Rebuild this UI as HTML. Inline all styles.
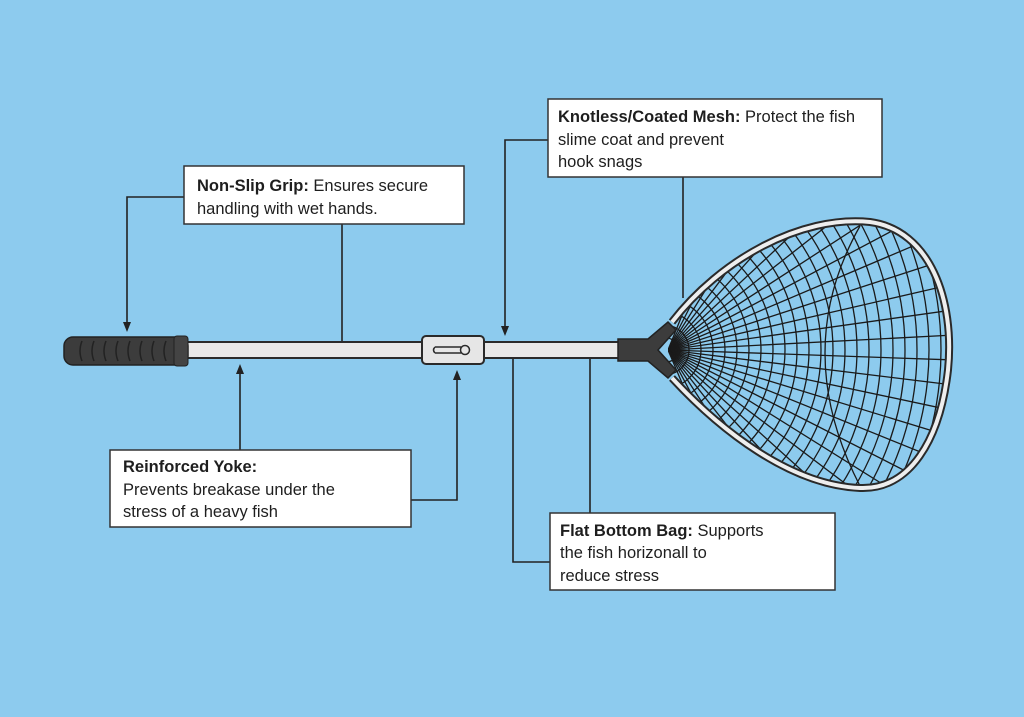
<!DOCTYPE html>
<html><head><meta charset="utf-8"><style>
html,body{margin:0;padding:0;background:#8dcbee;}
svg{display:block}
text{font-family:"Liberation Sans",sans-serif;font-size:16.5px;fill:#1e1e1e}
.b{font-weight:bold}
</style></head><body>
<svg width="1024" height="717" viewBox="0 0 1024 717" xmlns="http://www.w3.org/2000/svg">
<defs>
<clipPath id="hc"><path d="M668,322 C720,260 800,215 870,222 C930,230 955,300 948,370 C940,440 910,490 860,488 C790,485 720,430 668,378 Z"/></clipPath>
</defs>
<rect width="1024" height="717" fill="#8dcbee"/>

<!-- connectors -->
<g stroke="#222" stroke-width="1.6" fill="none">
<polyline points="184,197 127,197 127,324"/>
<line x1="342" y1="224" x2="342" y2="352"/>
<polyline points="548,140 505,140 505,328"/>
<line x1="683" y1="177" x2="683" y2="298"/>
<line x1="240" y1="450" x2="240" y2="372"/>
<polyline points="411,500 457,500 457,378"/>
<polyline points="550,562 513,562 513,352"/>
<line x1="590" y1="513" x2="590" y2="352"/>
</g>
<g fill="#222">
<path d="M123,322 L131,322 L127,332 Z"/>
<path d="M501,326 L509,326 L505,336 Z"/>
<path d="M236,374 L244,374 L240,364 Z"/>
<path d="M453,380 L461,380 L457,370 Z"/>
</g>

<!-- shaft -->
<rect x="182" y="342" width="442" height="16" fill="#e8e8e8" stroke="#2a2a2a" stroke-width="2"/>
<!-- grip -->
<rect x="64" y="337" width="124" height="28" rx="9" fill="#3c3c3c" stroke="#222" stroke-width="1.5"/>
<rect x="174" y="336" width="14" height="30" rx="3" fill="#444" stroke="#222"/>
<g stroke="#222" stroke-width="1.5" fill="none">
<path d="M82,341 q-4,10 0,20 M94,341 q-4,10 0,20 M106,341 q-4,10 0,20 M118,341 q-4,10 0,20 M130,341 q-4,10 0,20 M142,341 q-4,10 0,20 M154,341 q-4,10 0,20 M166,341 q-4,10 0,20"/>
</g>
<!-- yoke -->
<rect x="422" y="336" width="62" height="28" rx="4" fill="#e6e6e6" stroke="#2a2a2a" stroke-width="2"/>
<path d="M435,347 h26 M435,353 h26 M435,347 q-3,3 0,6" stroke="#2a2a2a" stroke-width="1.5" fill="none"/>
<circle cx="465" cy="350" r="4.5" fill="#e6e6e6" stroke="#2a2a2a" stroke-width="1.5"/>

<!-- net -->
<g clip-path="url(#hc)" stroke="#1a1a1a" stroke-width="1.3" fill="none">
<line x1="668" y1="350" x2="1068" y2="350" transform="rotate(-68 668 350)"/>
<line x1="668" y1="350" x2="1068" y2="350" transform="rotate(-63 668 350)"/>
<line x1="668" y1="350" x2="1068" y2="350" transform="rotate(-58 668 350)"/>
<line x1="668" y1="350" x2="1068" y2="350" transform="rotate(-53 668 350)"/>
<line x1="668" y1="350" x2="1068" y2="350" transform="rotate(-48 668 350)"/>
<line x1="668" y1="350" x2="1068" y2="350" transform="rotate(-43 668 350)"/>
<line x1="668" y1="350" x2="1068" y2="350" transform="rotate(-38 668 350)"/>
<line x1="668" y1="350" x2="1068" y2="350" transform="rotate(-33 668 350)"/>
<line x1="668" y1="350" x2="1068" y2="350" transform="rotate(-28 668 350)"/>
<line x1="668" y1="350" x2="1068" y2="350" transform="rotate(-23 668 350)"/>
<line x1="668" y1="350" x2="1068" y2="350" transform="rotate(-18 668 350)"/>
<line x1="668" y1="350" x2="1068" y2="350" transform="rotate(-13 668 350)"/>
<line x1="668" y1="350" x2="1068" y2="350" transform="rotate(-8 668 350)"/>
<line x1="668" y1="350" x2="1068" y2="350" transform="rotate(-3 668 350)"/>
<line x1="668" y1="350" x2="1068" y2="350" transform="rotate(2 668 350)"/>
<line x1="668" y1="350" x2="1068" y2="350" transform="rotate(7 668 350)"/>
<line x1="668" y1="350" x2="1068" y2="350" transform="rotate(12 668 350)"/>
<line x1="668" y1="350" x2="1068" y2="350" transform="rotate(17 668 350)"/>
<line x1="668" y1="350" x2="1068" y2="350" transform="rotate(22 668 350)"/>
<line x1="668" y1="350" x2="1068" y2="350" transform="rotate(27 668 350)"/>
<line x1="668" y1="350" x2="1068" y2="350" transform="rotate(32 668 350)"/>
<line x1="668" y1="350" x2="1068" y2="350" transform="rotate(37 668 350)"/>
<line x1="668" y1="350" x2="1068" y2="350" transform="rotate(42 668 350)"/>
<line x1="668" y1="350" x2="1068" y2="350" transform="rotate(47 668 350)"/>
<line x1="668" y1="350" x2="1068" y2="350" transform="rotate(52 668 350)"/>
<line x1="668" y1="350" x2="1068" y2="350" transform="rotate(57 668 350)"/>
<line x1="668" y1="350" x2="1068" y2="350" transform="rotate(62 668 350)"/>
<line x1="668" y1="350" x2="1068" y2="350" transform="rotate(67 668 350)"/>
<circle cx="666" cy="350" r="12"/>
<circle cx="664" cy="350" r="25"/>
<circle cx="662" cy="350" r="39"/>
<circle cx="660" cy="350" r="53"/>
<circle cx="658" cy="350" r="67"/>
<circle cx="656" cy="350" r="81"/>
<circle cx="654" cy="350" r="95"/>
<circle cx="652" cy="350" r="109"/>
<circle cx="650" cy="350" r="123"/>
<circle cx="648" cy="350" r="137"/>
<circle cx="646" cy="350" r="151"/>
<circle cx="644" cy="350" r="165"/>
<circle cx="642" cy="350" r="179"/>
<circle cx="640" cy="350" r="193"/>
<circle cx="638" cy="350" r="207"/>
<circle cx="636" cy="350" r="221"/>
<circle cx="634" cy="350" r="235"/>
<circle cx="632" cy="350" r="249"/>
<circle cx="630" cy="350" r="263"/>
<circle cx="628" cy="350" r="277"/>
<circle cx="626" cy="350" r="291"/>
<circle cx="624" cy="350" r="305"/>
<circle cx="622" cy="350" r="319"/>
<path d="M860,226 Q790,350 860,486"/>
</g>
<!-- hoop -->
<path d="M672,322 C720,260 800,215 870,222 C930,230 955,300 948,370 C940,440 910,490 860,488 C790,485 720,430 672,378" stroke="#2a2a2a" stroke-width="8" fill="none"/>
<path d="M672,322 C720,260 800,215 870,222 C930,230 955,300 948,370 C940,440 910,490 860,488 C790,485 720,430 672,378" stroke="#eeeeee" stroke-width="4" fill="none"/>
<!-- ferrule -->
<path d="M618,339 L648,339 L668,322 L676,330 L658,350 L676,370 L668,378 L648,361 L618,361 Z" fill="#3c3c3c" stroke="#222" stroke-width="1.5"/>

<!-- boxes -->
<g fill="#ffffff" stroke="#333" stroke-width="1.5">
<rect x="184" y="166" width="280" height="58"/>
<rect x="548" y="99" width="334" height="78"/>
<rect x="110" y="450" width="301" height="77"/>
<rect x="550" y="513" width="285" height="77"/>
</g>
<text x="197" y="191"><tspan class="b">Non-Slip Grip:</tspan> Ensures secure</text>
<text x="197" y="214">handling with wet hands.</text>
<text x="558" y="122"><tspan class="b">Knotless/Coated Mesh:</tspan> Protect the fish</text>
<text x="558" y="145">slime coat and prevent</text>
<text x="558" y="167">hook snags</text>
<text x="123" y="472" class="b">Reinforced Yoke:</text>
<text x="123" y="495">Prevents breakase under the</text>
<text x="123" y="517">stress of a heavy fish</text>
<text x="560" y="536"><tspan class="b">Flat Bottom Bag:</tspan> Supports</text>
<text x="560" y="558">the fish horizonall to</text>
<text x="560" y="581">reduce stress</text>
</svg>
</body></html>
